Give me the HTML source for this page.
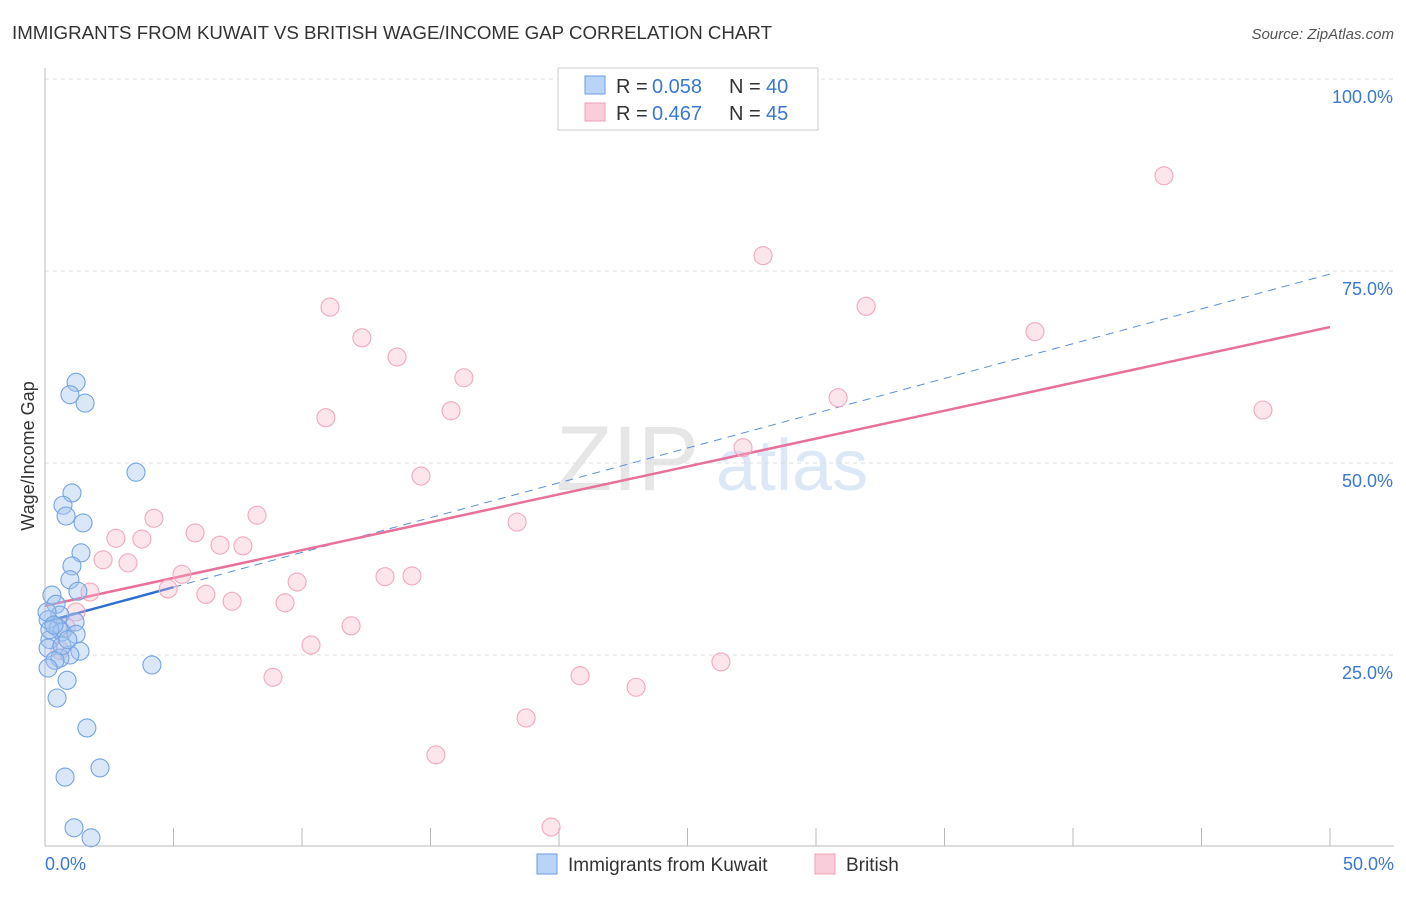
<!DOCTYPE html>
<html><head><meta charset="utf-8"><style>
body{margin:0;background:#fff;font-family:"Liberation Sans",sans-serif}
svg text{font-family:"Liberation Sans",sans-serif}
</style></head><body>
<svg id="chart" width="1406" height="892">
<text x="12" y="39" font-size="18" fill="#333" textLength="760" lengthAdjust="spacingAndGlyphs">IMMIGRANTS FROM KUWAIT VS BRITISH WAGE/INCOME GAP CORRELATION CHART</text>
<text x="1394" y="39" font-size="15" fill="#555" text-anchor="end" font-style="italic">Source: ZipAtlas.com</text>
<text x="34" y="456" font-size="18" fill="#333" text-anchor="middle" transform="rotate(-90 34 456)">Wage/Income Gap</text>
<g><text x="556" y="490" font-size="92" fill="#e6e6e6" font-family="Liberation Serif">ZIP</text><text x="716" y="490" font-size="72" fill="#dce8f6">atlas</text></g>
<g id="grid"></g><g id="axes"></g><g id="lines"></g><g id="pts"></g>
<g>
<rect x="558" y="68" width="260" height="62" fill="#fff" stroke="#ccc"/>
<rect x="585" y="76" width="20" height="18" fill="#b9d4f6" stroke="#6a9ee0"/>
<rect x="585" y="103" width="20" height="18" fill="#fbccd9" stroke="#f0a0b8"/>
<text x="616" y="93" font-size="20" fill="#333">R = </text><text x="652" y="93" font-size="20" fill="#3a78d0">0.058</text>
<text x="729" y="93" font-size="20" fill="#333">N = </text><text x="766" y="93" font-size="20" fill="#3a78d0">40</text>
<text x="616" y="120" font-size="20" fill="#333">R = </text><text x="652" y="120" font-size="20" fill="#3a78d0">0.467</text>
<text x="729" y="120" font-size="20" fill="#333">N = </text><text x="766" y="120" font-size="20" fill="#3a78d0">45</text>
</g>
<g>
<rect x="537" y="854" width="20" height="20" fill="#b9d4f6" stroke="#6a9ee0"/>
<text x="568" y="871" font-size="19" fill="#333">Immigrants from Kuwait</text>
<rect x="815" y="854" width="20" height="20" fill="#fbccd9" stroke="#f0a0b8"/>
<text x="846" y="871" font-size="19" fill="#333">British</text>
</g>
</svg>
<script>
const blueX=[1.21,0.97,1.56,3.54,1.05,0.70,0.82,1.48,1.40,1.05,0.97,1.28,0.27,0.43,0.58,0.12,0.51,0.66,1.17,1.21,0.19,0.12,1.36,0.97,0.58,0.39,0.12,4.16,0.86,0.47,1.63,2.14,0.78,1.13,1.79,0.19,0.08,0.35,0.66,0.89];
const blueY=[60.5,58.9,57.8,48.8,46.1,44.5,43.1,42.2,38.3,36.6,34.8,33.3,32.8,31.6,30.2,29.6,28.5,28.0,29.3,27.7,27.0,25.9,25.5,25.0,24.6,24.3,23.3,23.7,21.7,19.4,15.5,10.3,9.1,2.5,1.2,28.3,30.6,28.9,26.2,27.0];
const pinkX=[43.54,27.94,31.95,11.09,38.52,12.33,13.70,16.30,10.93,15.80,47.39,30.86,27.16,14.63,18.37,4.24,8.25,5.84,2.76,3.77,6.81,7.70,2.26,3.23,5.33,4.79,9.81,13.23,14.28,6.26,7.28,9.34,1.75,1.21,11.91,10.35,8.87,20.82,23.00,26.30,18.72,15.21,19.69,0.58,0.82];
const pinkY=[87.4,77.0,70.4,70.3,67.1,66.3,63.8,61.1,55.9,56.8,56.9,58.5,52.0,48.3,42.3,42.8,43.2,40.9,40.2,40.1,39.3,39.2,37.4,37.0,35.5,33.6,34.5,35.2,35.3,32.9,32.0,31.8,33.2,30.6,28.8,26.3,22.1,22.3,20.8,24.1,16.8,12.0,2.6,25.6,28.6];
const blueTrend=[29.3,74.6];
const pinkTrend=[31.4,67.7];
const yTicks=[25,50,75,100];
const NS='http://www.w3.org/2000/svg';
const sx=v=>45+v/50*1285, sy=v=>847-v/100*768;
function mk(tag,at,parent){const e=document.createElementNS(NS,tag);for(const k in at)e.setAttribute(k,at[k]);document.getElementById(parent).appendChild(e);return e;}
yTicks.forEach(t=>{
 const l=mk('line',{x1:45,x2:1394,y1:sy(t),y2:sy(t),stroke:'#ddd','stroke-dasharray':'4,4'},'grid');
 
 
 const tx=mk('text',{x:1393,y:sy(t)+24,'font-size':18,fill:'#3a78d0','text-anchor':'end'},'axes');
 tx.textContent=t.toFixed(1)+'%';
 
 
});
mk('line',{x1:45,x2:45,y1:68,y2:846,stroke:'#bbb'},'axes');
mk('line',{x1:45,x2:1394,y1:846,y2:846,stroke:'#bbb'},'axes');
for(let i=0;i<=10;i++){const t=mk('line',{x1:sx(i*5),x2:sx(i*5),y1:828,y2:846,stroke:'#bbb'},'axes');}
let a=mk('text',{x:45,y:870,'font-size':18,fill:'#3a78d0'},'axes');a.textContent='0.0%';


a=mk('text',{x:1394,y:870,'font-size':18,fill:'#3a78d0','text-anchor':'end'},'axes');a.textContent='50.0%';


const bt=x=>blueTrend[0]+(blueTrend[1]-blueTrend[0])*x/50;
let ln=mk('line',{x1:sx(5),y1:sy(bt(5)),x2:sx(50),y2:sy(bt(50)),stroke:'#5b8fd8','stroke-width':1,'stroke-dasharray':'8,6'},'lines');


ln=mk('line',{x1:sx(0),y1:sy(pinkTrend[0]),x2:sx(50),y2:sy(pinkTrend[1]),stroke:'#e8709a','stroke-width':2.5},'lines');


ln=mk('line',{x1:sx(0),y1:sy(bt(0)),x2:sx(5),y2:sy(bt(5)),stroke:'#2f6fd0','stroke-width':2.5},'lines');


pinkX.forEach((x,i)=>{const c=mk('circle',{cx:sx(x),cy:sy(pinkY[i]),r:9,fill:'rgba(248,180,200,0.35)',stroke:'#f2a8bf','stroke-width':1.1},'pts');
 
 });
blueX.forEach((x,i)=>{const c=mk('circle',{cx:sx(x),cy:sy(blueY[i]),r:9,fill:'rgba(160,196,240,0.4)',stroke:'#74a4e2','stroke-width':1.1},'pts');
 
 });
</script>
</body></html>
